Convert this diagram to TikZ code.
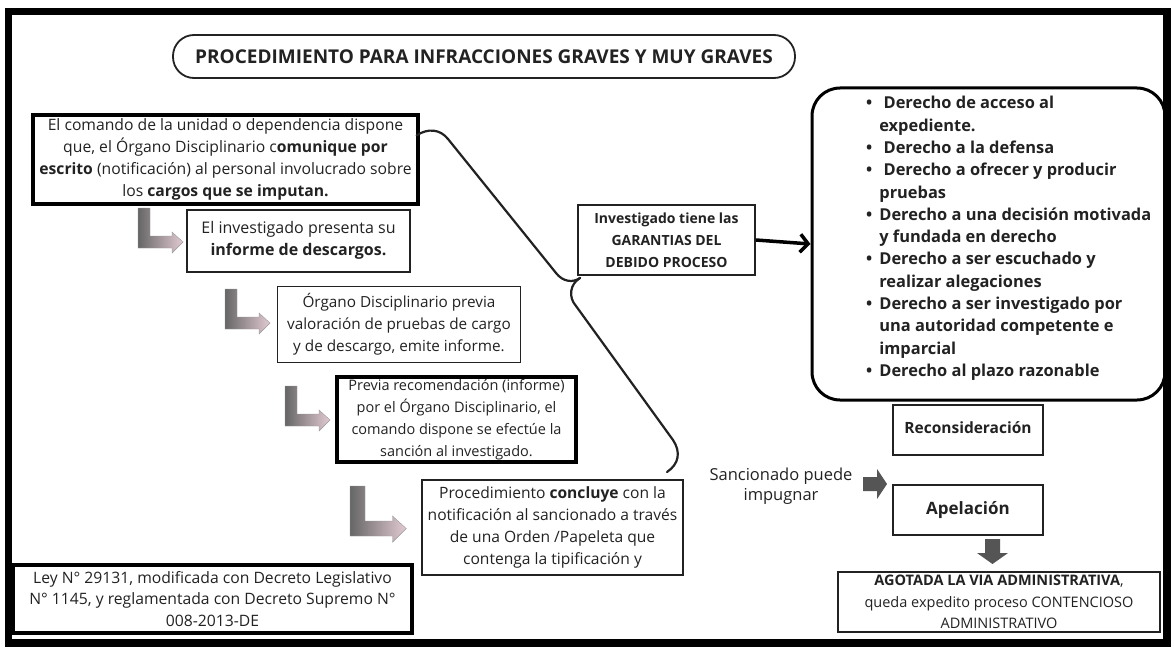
\documentclass[tikz,border=0pt]{standalone}
\usepackage{fontspec}
\setmainfont{Open Sans}
\usetikzlibrary{arrows.meta,calc}
\newcommand\fsz[2]{\fontsize{#1}{#2}\selectfont}
\definecolor{ink}{HTML}{222222}
\definecolor{pinkend}{RGB}{226,202,210}
\definecolor{arrgray}{HTML}{555555}
\begin{document}
\begin{tikzpicture}[x=1pt,y=-1pt,
  thinbox/.style={draw=ink, line width=1.2pt, align=center, inner sep=0pt, text=ink, font=\fsz{15.6}{22}},
  thickbox/.style={draw=black, line width=3.3pt, align=center, inner sep=0pt, text=ink, font=\fsz{15.6}{22}},
  brace/.style={draw=ink, line width=2.2pt, line cap=round},
  larrow/.pic={\path[left color=black!60, right color=pinkend, draw=black!40, line width=0.4pt]
     (0,0) -- (12,0) -- (12,28) -- (34,28) -- (34,24) -- (45,34) -- (34,45) -- (34,40) -- (0,40) -- cycle;},
  blockgray/.style={fill=arrgray}
]
\useasboundingbox (0,0) rectangle (1174,650);
\fill[white] (0,0) rectangle (1174,650);
\draw[line width=7.5pt] (8.5,11.5) rectangle (1167,643);

% title
\node[draw=ink, line width=1.8pt, rounded corners=21pt, minimum width=622pt, minimum height=43pt,
      inner sep=0pt, font=\bfseries\fsz{19}{22}, text=ink] (title) at (484,56.5)
  {PROCEDIMIENTO PARA INFRACCIONES GRAVES Y MUY GRAVES};

% left column
\node[thickbox, minimum width=385pt, minimum height=89pt, font=\fsz{15.7}{22}] (box1) at (225.5,159.5)
  {El comando de la unidad o dependencia dispone\\
   que, el Órgano Disciplinario c\textbf{omunique por}\\
   \textbf{escrito} (notificación) al personal involucrado sobre\\
   los \textbf{cargos que se imputan.}};
\node[thinbox, minimum width=223pt, minimum height=62pt, font=\fsz{16}{22}] (box2) at (298.5,241)
  {\raisebox{5pt}{El investigado presenta su}\\ \raisebox{5pt}{\textbf{informe de descargos.}}};
\node[thinbox, minimum width=243pt, minimum height=76pt, font=\fsz{15.3}{22}] (box3) at (399,324.5)
  {Órgano Disciplinario previa\\ valoración de pruebas de cargo\\ y de descargo, emite informe.};
\node[thickbox, minimum width=239pt, minimum height=85pt, font=\fsz{14.5}{22}] (box4) at (456.5,419.5)
  {Previa recomendación (informe)\\ por el Órgano Disciplinario, el\\ comando dispone se efectúe la\\ sanción al investigado.};
\node[thinbox, minimum width=261pt, minimum height=95pt] (box5) at (552.5,527.5)
  {Procedimiento \textbf{concluye} con la\\ notificación al sancionado a través\\ de una Orden /Papeleta que\\ contenga la tipificación y};
\node[thickbox, minimum width=399pt, minimum height=68pt, font=\fsz{15.7}{21.5}] (law) at (212.5,599)
  {Ley N° 29131, modificada con Decreto Legislativo\\ N° 1145, y reglamentada con Decreto Supremo N°\\ 008-2013-DE};

% L arrows
\pic at (138,208) {larrow};
\pic at (225,289) {larrow};
\pic at (285,386) {larrow};
\pic[scale=1.25] at (350,486) {larrow};

% garantias
\node[thinbox, line width=1.8pt, minimum width=177pt, minimum height=70pt, font=\bfseries\fsz{14}{22}] (inv) at (666.5,240)
  {Investigado tiene las\\ GARANTIAS DEL\\ DEBIDO PROCESO};

% brace
\coordinate (btip) at ($(inv.south west)+(3,2)$);
\coordinate (bend) at (667,472);
\draw[brace] ($(box1.north east)+(-3,22)$) .. controls (428,128) and (440,129) .. (448,139)
   -- (556,273) .. controls (563,282) and (573,283) .. (btip);
\draw[brace] (btip) .. controls (570,284) and (568,297) .. (576,306)
   -- (673,440) .. controls (681,452) and (679,464) .. (bend);

% rights
\node[draw=black, line width=3pt, rounded corners=28pt, minimum width=353pt, minimum height=312pt, inner sep=0pt] (rights) at (988.5,244) {};
\node[anchor=north west, inner sep=0pt, text=ink, font=\bfseries\fsz{16.4}{22.3}] (rlist) at (866,93)
  {\begin{tabular}{@{}l@{\hspace{7pt}}l@{}}
   \textbullet & \ Derecho de acceso al\\
               & expediente.\\
   \textbullet & \ Derecho a la defensa\\
   \textbullet & \ Derecho a ofrecer y producir\\
               & pruebas\\
   \textbullet & Derecho a una decisión motivada\\
               & y fundada en derecho\\
   \textbullet & Derecho a ser escuchado y\\
               & realizar alegaciones\\
   \textbullet & Derecho a ser investigado por\\
               & una autoridad competente e\\
               & imparcial\\
   \textbullet & Derecho al plazo razonable
  \end{tabular}};
\draw[line width=3.5pt, -{Straight Barb[length=8pt,width=18pt]}] (inv.east) -- (rights.west);

% appeals
\node[thinbox, line width=1.8pt, minimum width=150pt, minimum height=50pt, font=\bfseries\fsz{15.5}{20}] (recon) at (968,430)
  {\raisebox{5pt}{Reconsideración}};
\node[thinbox, line width=1.8pt, minimum width=150pt, minimum height=50pt, font=\bfseries\fsz{17}{20}] (apel) at (968,510)
  {\raisebox{4pt}{Apelación}};
\node[thinbox, line width=1.5pt, minimum width=322pt, minimum height=60pt, font=\fsz{14.5}{21.5}] (agot) at (999,602)
  {\textbf{AGOTADA LA VIA ADMINISTRATIVA},\\ queda expedito proceso CONTENCIOSO\\ ADMINISTRATIVO};
\node[align=center, inner sep=0pt, text=ink, font=\fsz{16.5}{20}] (sanc) at (781,486)
  {Sancionado puede\\ impugnar};

% gray block arrows
\fill[blockgray] (863,477) -- (877,477) -- (877,469) -- (887,484) -- (877,499) -- (877,491) -- (863,491) -- cycle;
\fill[blockgray] (985,539) -- (1000,539) -- (1000,553) -- (1008,553) -- (992.5,564) -- (977,553) -- (985,553) -- cycle;
\end{tikzpicture}
\end{document}
